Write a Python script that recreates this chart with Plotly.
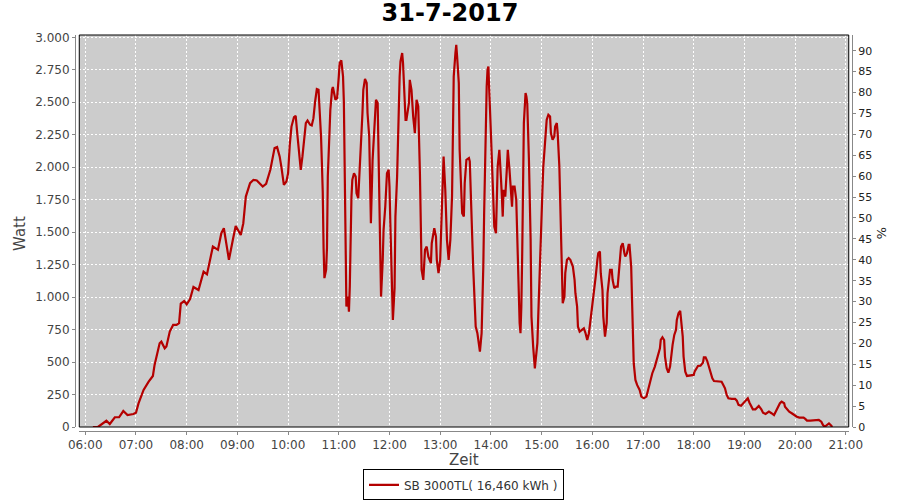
import plotly.graph_objects as go

DAY = "2017-07-31"
TITLE = "31-7-2017"
SERIES_NAME = "SB 3000TL( 16,460 kWh )"

# sample times (HH:MM) and AC power in watt
TIMES = [
    "06:09", "06:15", "06:25", "06:29", "06:35", "06:40", "06:45", "06:50", "06:57", "07:00",
    "07:03", "07:09", "07:15", "07:20", "07:22", "07:24", "07:28", "07:30", "07:34", "07:36",
    "07:40", "07:44", "07:48", "07:51", "07:53", "07:57", "08:00", "08:04", "08:08", "08:14",
    "08:20", "08:24", "08:31", "08:37", "08:41", "08:44", "08:47", "08:50", "08:55", "08:58",
    "09:04", "09:07", "09:10", "09:15", "09:19", "09:23", "09:30", "09:34", "09:39", "09:44",
    "09:47", "09:50", "09:52", "09:55", "09:58", "10:00", "10:02", "10:04", "10:07", "10:09",
    "10:11", "10:13", "10:15", "10:17", "10:19", "10:21", "10:23", "10:26", "10:28", "10:30",
    "10:32", "10:34", "10:36", "10:38", "10:39", "10:40", "10:41", "10:42", "10:43", "10:45",
    "10:46", "10:47", "10:49", "10:50", "10:52", "10:53", "10:56", "10:58", "11:00", "11:01",
    "11:03", "11:05", "11:06", "11:07", "11:08", "11:09", "11:11", "11:12", "11:13", "11:14",
    "11:15", "11:16", "11:18", "11:20", "11:21", "11:23", "11:24", "11:26", "11:28", "11:29",
    "11:31", "11:33", "11:34", "11:36", "11:37", "11:38", "11:40", "11:42", "11:44", "11:46",
    "11:47", "11:48", "11:49", "11:50", "11:52", "11:53", "11:55", "11:56", "11:57", "11:59",
    "12:00", "12:01", "12:02", "12:03", "12:04", "12:06", "12:07", "12:09", "12:10", "12:12",
    "12:13", "12:15", "12:16", "12:17", "12:19", "12:20", "12:23", "12:24", "12:26", "12:28",
    "12:30", "12:32", "12:34", "12:36", "12:37", "12:38", "12:40", "12:42", "12:44", "12:46",
    "12:49", "12:50", "12:53", "12:55", "12:56", "12:58", "13:00", "13:01", "13:03", "13:04",
    "13:06", "13:08", "13:10", "13:12", "13:14", "13:15", "13:16", "13:18", "13:19", "13:20",
    "13:22", "13:23", "13:25", "13:26", "13:28", "13:29", "13:31", "13:34", "13:35", "13:36",
    "13:38", "13:39", "13:41", "13:42", "13:44", "13:46", "13:47", "13:49", "13:50", "13:51",
    "13:52", "13:53", "13:55", "13:56", "13:57", "13:58", "13:59", "14:00", "14:02", "14:03",
    "14:04", "14:06", "14:07", "14:08", "14:10", "14:11", "14:12", "14:13", "14:14", "14:15",
    "14:17", "14:19", "14:20", "14:22", "14:23", "14:25", "14:26", "14:28", "14:30", "14:31",
    "14:32", "14:34", "14:35", "14:36", "14:37", "14:38", "14:39", "14:41", "14:42", "14:43",
    "14:44", "14:45", "14:47", "14:48", "14:50", "14:52", "14:53", "14:55", "14:56", "14:58",
    "14:59", "15:01", "15:02", "15:04", "15:05", "15:06", "15:08", "15:10", "15:11", "15:13",
    "15:15", "15:16", "15:18", "15:19", "15:21", "15:22", "15:23", "15:24", "15:25", "15:27",
    "15:28", "15:30", "15:32", "15:34", "15:37", "15:39", "15:40", "15:42", "15:43", "15:45",
    "15:48", "15:50", "15:52", "15:54", "15:56", "15:58", "16:00", "16:02", "16:04", "16:06",
    "16:07", "16:09", "16:10", "16:12", "16:13", "16:15", "16:17", "16:18", "16:20", "16:21",
    "16:23", "16:24", "16:26", "16:28", "16:30", "16:31", "16:33", "16:34", "16:36", "16:38",
    "16:39", "16:41", "16:43", "16:44", "16:46", "16:47", "16:48", "16:49", "16:51", "16:53",
    "16:56", "16:58", "17:01", "17:04", "17:06", "17:09", "17:11", "17:14", "17:16", "17:18",
    "17:20", "17:21", "17:23", "17:25", "17:26", "17:28", "17:30", "17:32", "17:33", "17:35",
    "17:37", "17:39", "17:40", "17:42", "17:44", "17:45", "17:47", "17:48", "17:50", "17:52",
    "17:54", "17:57", "18:00", "18:01", "18:04", "18:05", "18:08", "18:11", "18:12", "18:14",
    "18:16", "18:18", "18:20", "18:22", "18:24", "18:27", "18:30", "18:33", "18:35", "18:37",
    "18:39", "18:41", "18:45", "18:49", "18:51", "18:53", "18:56", "18:59", "19:02", "19:04",
    "19:06", "19:08", "19:10", "19:13", "19:15", "19:17", "19:20", "19:22", "19:25", "19:27",
    "19:29", "19:32", "19:35", "19:37", "19:40", "19:42", "19:44", "19:47", "19:48", "19:51",
    "19:53", "19:56", "19:59", "20:02", "20:05", "20:07", "20:10", "20:12", "20:14", "20:18",
    "20:21", "20:25", "20:28", "20:31", "20:33", "20:35", "20:37", "20:40", "20:42", "20:44",
]
WATT = [
    0, 0, 48, 23, 75, 75, 123, 92, 100, 110,
    182, 285, 349, 393, 478, 542, 645, 657, 606, 620,
    735, 786, 786, 800, 950, 970, 945, 985, 1078, 1055,
    1196, 1175, 1389, 1364, 1492, 1530, 1389, 1287, 1453, 1548,
    1479, 1569, 1774, 1877, 1903, 1898, 1851, 1872, 1980, 2147,
    2155, 2083, 2005, 1864, 1890, 1954, 2173, 2313, 2386, 2396,
    2250, 2095, 1980, 2083, 2211, 2340, 2360, 2327, 2321, 2378,
    2506, 2602, 2596, 2391, 2237, 2031, 1813, 1377, 1146, 1210,
    1377, 1928, 2211, 2442, 2596, 2617, 2519, 2532, 2699, 2802,
    2822, 2699, 2506, 1980, 1389, 927, 1004, 888, 1081, 1569,
    1774, 1903, 1954, 1928, 1800, 1762, 1877, 2186, 2417, 2596,
    2679, 2648, 2417, 2237, 1826, 1569, 2057, 2313, 2519, 2494,
    2083, 1620, 1107, 1004, 1287, 1518, 1697, 1851, 1954, 1980,
    1851, 1569, 1312, 1081, 824, 1069, 1620, 1928, 2288, 2699,
    2814, 2879, 2802, 2596, 2365, 2365, 2494, 2673, 2596, 2391,
    2263, 2519, 2468, 1954, 1620, 1210, 1133, 1364, 1389, 1312,
    1261, 1415, 1531, 1466, 1287, 1184, 1287, 1492, 1851, 2083,
    1826, 1441, 1287, 1441, 1774, 2211, 2699, 2879, 2943, 2853,
    2648, 2134, 1877, 1646, 1620, 1877, 2057, 2070, 2044, 1800,
    1518, 1235, 927, 773, 722, 645, 580, 722, 927, 1235,
    1646, 2031, 2622, 2750, 2776, 2596, 2468, 2263, 1903, 1646,
    1543, 1492, 1774, 2005, 2134, 1954, 1903, 1774, 1620, 1826,
    1774, 2005, 2134, 1980, 1851, 1697, 1851, 1851, 1749, 1492,
    1184, 799, 722, 927, 1312, 1826, 2340, 2571, 2545, 2494,
    2313, 2057, 1441, 850, 619, 452, 516, 645, 850, 1312,
    1569, 1826, 2005, 2186, 2313, 2365, 2404, 2391, 2263, 2211,
    2237, 2313, 2340, 2263, 2005, 1697, 1441, 1184, 953, 1004,
    1184, 1287, 1300, 1287, 1235, 1133, 1030, 927, 773, 734,
    747, 760, 722, 670, 722, 824, 927, 1030, 1158, 1287,
    1338, 1351, 1184, 1055, 850, 696, 799, 1030, 1184, 1210,
    1210, 1133, 1069, 1081, 1081, 1184, 1312, 1389, 1415, 1338,
    1312, 1338, 1402, 1402, 1235, 978, 722, 491, 362, 324,
    285, 234, 221, 234, 285, 362, 414, 465, 516, 555,
    606, 670, 691, 670, 542, 452, 418, 465, 542, 632,
    709, 747, 824, 876, 894, 824, 696, 542, 426, 393,
    395, 393, 401, 426, 452, 470, 472, 496, 537, 537,
    508, 465, 414, 375, 354, 354, 354, 349, 324, 298,
    247, 221, 216, 216, 203, 170, 164, 187, 208, 221,
    187, 162, 136, 136, 152, 162, 136, 110, 100, 110,
    118, 106, 92, 118, 156, 183, 195, 183, 156, 131,
    118, 106, 92, 79, 72, 72, 72, 62, 49, 49,
    49, 49, 54, 41, 15, 2, 15, 28, 15, 0,
]

W_TICKS = list(range(0, 3001, 250))
PCT_TICKS = list(range(0, 91, 5))

LINE_RED = "#b40000"
AXIS_GREY = "#888888"
TEXT_GREY = "#444444"
FONT = "DejaVu Sans"

x = [f"{DAY} {t}" for t in TIMES]

fig = go.Figure()
fig.add_trace(go.Scatter(
    x=x, y=WATT,
    mode="lines",
    name=SERIES_NAME,
    line=dict(color=LINE_RED, width=2.2),
))
# empty trace so the percent axis gets drawn
fig.add_trace(go.Scatter(
    x=[x[0]], y=[None], yaxis="y2", mode="lines",
    showlegend=False, hoverinfo="skip",
))

# paper area spans between the offset axis lines; plot area sits slightly inside it
fig.update_layout(
    width=900, height=500,
    autosize=False,
    paper_bgcolor="white",
    plot_bgcolor="#cccccc",
    separators=",.",
    margin=dict(l=75, r=48, t=35, b=69, autoexpand=False),
    font=dict(family=FONT, size=12, color=TEXT_GREY),
    title=dict(text=f"<b>{TITLE}</b>", x=0.5, xanchor="center", y=0.974, yanchor="middle",
               font=dict(family=FONT, size=24, color="black")),
    showlegend=True,
    legend=dict(orientation="h", x=0.5, xanchor="center", y=-0.136, yanchor="middle",
                bordercolor="black", borderwidth=1, bgcolor="white",
                font=dict(family=FONT, size=12, color="#333333"),
                itemwidth=30, tracegroupgap=0),
)

fig.update_xaxes(
    type="date",
    domain=[0.0055, 0.9958],
    anchor="free", position=0,
    range=[f"{DAY} 05:52:54", f"{DAY} 21:03:26"],
    tick0=f"{DAY} 06:00", dtick=3600000, tickformat="%H:%M",
    showline=True, linecolor=AXIS_GREY, linewidth=1,
    ticks="outside", ticklen=3, tickcolor=AXIS_GREY,
    tickfont=dict(family=FONT, size=12, color=TEXT_GREY),
    showgrid=True, gridcolor="white", gridwidth=1, griddash="2px,2px",
    zeroline=False, automargin=False,
)
fig.update_layout(yaxis=dict(
    domain=[0.0101, 1],
    anchor="free", position=0,
    range=[0, 3018],
    tickvals=W_TICKS, tickformat=",d",
    showline=True, linecolor=AXIS_GREY, linewidth=1,
    ticks="outside", ticklen=3, tickcolor=AXIS_GREY,
    tickfont=dict(family=FONT, size=12, color=TEXT_GREY),
    showgrid=True, gridcolor="white", gridwidth=1, griddash="2px,2px",
    zeroline=False, automargin=False,
))
fig.update_layout(yaxis2=dict(
    overlaying="y", side="right",
    anchor="free", position=1,
    domain=[0.0101, 1],
    range=[0, 93.75],
    tickvals=PCT_TICKS,
    showline=True, linecolor=AXIS_GREY, linewidth=1,
    ticks="outside", ticklen=3, tickcolor=AXIS_GREY,
    tickfont=dict(family=FONT, size=11, color="#222222"),
    showgrid=False, zeroline=False, automargin=False,
))

# plot area frame
fig.add_shape(type="rect", xref="x domain", yref="y domain", x0=0, x1=1, y0=0, y1=1,
              line=dict(color="black", width=1), layer="above")

# axis titles
fig.add_annotation(text="Watt", xref="paper", yref="paper", x=-0.0708, y=0.5,
                   xanchor="center", yanchor="middle", textangle=-90, showarrow=False,
                   font=dict(family=FONT, size=15, color=TEXT_GREY))
fig.add_annotation(text="Zeit", xref="paper", yref="paper", x=0.5, y=-0.0732,
                   xanchor="center", yanchor="middle", showarrow=False,
                   font=dict(family=FONT, size=15, color=TEXT_GREY))
fig.add_annotation(text="%", xref="paper", yref="paper", x=1.0386, y=0.5,
                   xanchor="center", yanchor="middle", textangle=90, showarrow=False,
                   font=dict(family=FONT, size=13, color="#222222"))

# drop the default 8px page margin so the 900x500 figure fills the window
fig.write_html("out.html", config={"displayModeBar": False},
               post_script="document.body.style.margin = '0';")
